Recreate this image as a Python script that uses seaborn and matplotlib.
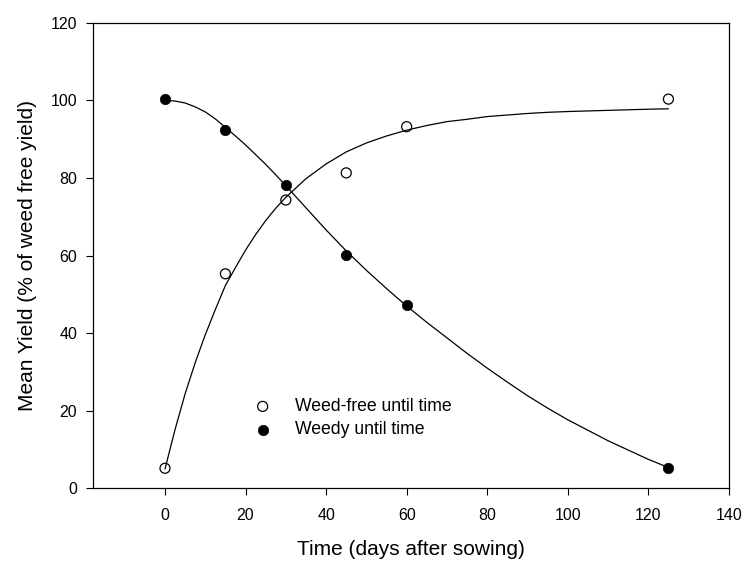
import numpy as np
import pandas as pd
import matplotlib
matplotlib.use("Agg")
import matplotlib.pyplot as plt
import seaborn as sns

# observed means
days = [0, 15, 30, 45, 60, 125]
weed_free = [5.2, 55.3, 74.3, 81.3, 93.2, 100.3]
weedy = [100.2, 92.3, 78.3, 60.2, 47.2, 5.2]

# fitted curves
curve_days = [0, 2.5, 5, 7.5, 10, 12.5, 15, 17.5, 20, 22.5, 25, 27.5, 30, 35, 40, 45, 50, 55,
              60, 65, 70, 75, 80, 85, 90, 95, 100, 105, 110, 115, 120, 125]
curve_weed_free = [5.0, 15.2, 24.4, 32.4, 39.6, 46.1, 52.3, 56.9, 61.4, 65.4, 69.0, 72.2, 75.0,
                   79.8, 83.6, 86.7, 89.0, 90.8, 92.3, 93.5, 94.5, 95.1, 95.8, 96.2, 96.6,
                   96.9, 97.1, 97.25, 97.4, 97.55, 97.7, 97.8]
curve_weedy = [100.0, 99.8, 99.3, 98.3, 97.0, 95.2, 93.0, 90.8, 88.5, 86.0, 83.5, 80.8, 78.0,
               72.3, 66.6, 61.2, 56.2, 51.5, 47.0, 42.8, 38.8, 34.8, 31.0, 27.4, 23.9,
               20.7, 17.7, 15.0, 12.3, 9.9, 7.5, 5.4]

sns.set_style("ticks")
plt.rcParams['font.family'] = ['Liberation Sans', 'DejaVu Sans']
plt.rcParams['text.color'] = 'black'
plt.rcParams['axes.labelcolor'] = 'black'

fig, ax = plt.subplots(figsize=(7.46, 5.66), dpi=100)
fig.subplots_adjust(left=0.124, right=0.977, bottom=0.137, top=0.96)

sns.lineplot(x=curve_days, y=curve_weed_free, color='black', lw=0.9, ax=ax)
sns.lineplot(x=curve_days, y=curve_weedy, color='black', lw=0.9, ax=ax)

sns.scatterplot(x=days, y=weed_free, marker='o', s=52, facecolor='none',
                edgecolor='black', linewidth=0.9, label='Weed-free until time', ax=ax, zorder=3)
sns.scatterplot(x=days, y=weedy, marker='o', s=56, color='black',
                edgecolor='black', linewidth=0.5, label='Weedy until time', ax=ax, zorder=3)

ax.set_xlim(-18, 140)
ax.set_ylim(0, 120)
ax.set_xticks(range(0, 141, 20))
ax.set_yticks(range(0, 121, 20))
ax.tick_params(direction='out', length=5, width=0.8, labelsize=11.5, pad=6, colors='black')
ax.tick_params(axis='x', pad=9)
for sp in ax.spines.values():
    sp.set_linewidth(0.9)
    sp.set_color('black')

ax.set_xlabel('Time (days after sowing)', fontsize=15, labelpad=12)
ax.set_ylabel('Mean Yield (% of weed free yield)', fontsize=15, labelpad=10)

leg = ax.legend(loc='center left', bbox_to_anchor=(0.2535, 0.151), frameon=False,
                fontsize=12.7, handlelength=1.0, handletextpad=1.33, labelspacing=0.35,
                borderaxespad=0, borderpad=0)
for t in leg.get_texts():
    t.set_color('black')

plt.savefig('out.png', dpi=100)
